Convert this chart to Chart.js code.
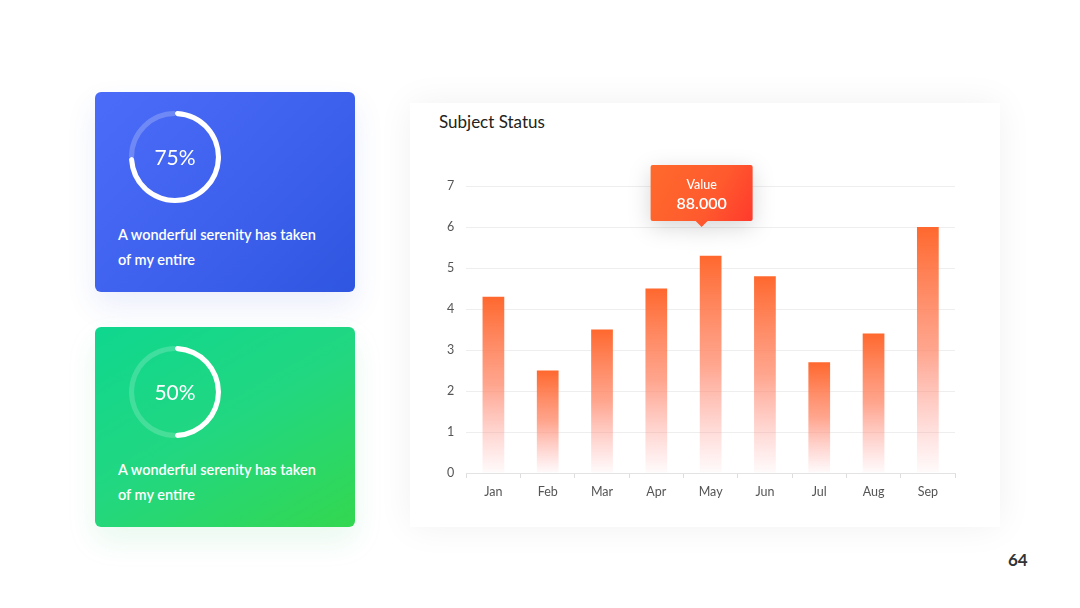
<!doctype html>
<html lang="en">
<head>
<meta charset="utf-8">
<title>Subject Status</title>
<script src="https://cdn.jsdelivr.net/npm/chart.js@4.4.0/dist/chart.umd.min.js"></script>
<style>
  html, body { margin: 0; padding: 0; background: #fff; }
  body { width: 1080px; height: 608px; position: relative; overflow: hidden; font-family: Lato, "Open Sans", sans-serif; }
  .card { position: absolute; left: 95px; width: 260px; height: 200px; border-radius: 6px; color: #fff; }
  .card.blue { top: 92px; background: linear-gradient(135deg, #4b6cf8 0%, #3f62ee 50%, #2f56e0 100%); box-shadow: 0 14px 30px rgba(60, 90, 230, 0.10); }
  .card.green { top: 327px; background: linear-gradient(150deg, #0fd78f 0%, #22d780 50%, #33d74f 100%); box-shadow: 0 14px 30px rgba(30, 200, 100, 0.10); }
  .card canvas { position: absolute; left: 30px; top: 15px; }
  .card .pct { position: absolute; left: 30px; top: 15px; width: 100px; height: 100px; line-height: 100px; text-align: center; font-size: 21px; }
  .card .txt { position: absolute; left: 23px; top: 130px; width: 210px; font-size: 14.5px; font-weight: 600; line-height: 25px; }
  .panel { position: absolute; left: 410px; top: 103px; width: 590px; height: 424px; background: #fff; box-shadow: 0 0 34px rgba(0, 0, 0, 0.06); }
  .panel h2 { position: absolute; left: 29px; top: 8px; margin: 0; font-size: 17px; font-weight: 400; color: #222; }
  .panel canvas { position: absolute; left: 0; top: 0; }
  .page { position: absolute; left: 1008px; top: 549px; font-size: 17px; font-weight: 700; color: #333; }
</style>
</head>
<body>

<div class="card blue">
  <canvas id="ring1" width="100" height="100"></canvas>
  <div class="pct">75%</div>
  <div class="txt">A wonderful serenity has taken of my entire</div>
</div>

<div class="card green">
  <canvas id="ring2" width="100" height="100"></canvas>
  <div class="pct">50%</div>
  <div class="txt">A wonderful serenity has taken of my entire</div>
</div>

<div class="panel">
  <h2>Subject Status</h2>
  <canvas id="bars" width="590" height="424"></canvas>
</div>

<div class="page">64</div>

<script>
// chart data
const months = ['Jan', 'Feb', 'Mar', 'Apr', 'May', 'Jun', 'Jul', 'Aug', 'Sep'];
const subjectValues = [4.3, 2.5, 3.5, 4.5, 5.3, 4.8, 2.7, 3.4, 6.0];
const yMax = 7;

// callout over May
const calloutIndex = 4;
const calloutAnchor = 6;
const calloutLabel = 'Value';
const calloutValue = '88.000';

// progress rings
const ringBlue = [75, 25];
const ringGreen = [50, 50];

function makeRing(id, values, trackColor) {
  new Chart(document.getElementById(id), {
    type: 'doughnut',
    data: {
      datasets: [{
        data: values,
        backgroundColor: ['#ffffff', trackColor],
        borderWidth: 0,
        borderRadius: [3, 0]
      }]
    },
    options: {
      responsive: false,
      animation: false,
      cutout: '89%',
      layout: { padding: 4 },
      events: [],
      plugins: { legend: { display: false }, tooltip: { enabled: false } }
    }
  });
}
makeRing('ring1', ringBlue, 'rgba(255,255,255,0.22)');
makeRing('ring2', ringGreen, 'rgba(255,255,255,0.18)');

// gradient for each bar, from its top to the baseline
function barGradient(ctx) {
  const chart = ctx.chart;
  const y = chart.scales.y;
  if (!chart.chartArea || !y) return '#ff6a2e';
  const top = y.getPixelForValue(ctx.raw);
  const base = y.getPixelForValue(0);
  const g = chart.ctx.createLinearGradient(0, top, 0, base);
  g.addColorStop(0, 'rgba(255,104,46,1)');
  g.addColorStop(0.5, 'rgba(255,140,110,0.78)');
  g.addColorStop(1, 'rgba(255,150,150,0.04)');
  return g;
}

// tooltip-like box, sits a little left of the bar centre like the original
const calloutPlugin = {
  id: 'callout',
  afterDatasetsDraw(chart) {
    const ctx = chart.ctx;
    const x = chart.scales.x.getPixelForValue(calloutIndex) - 9;
    const tipY = chart.scales.y.getPixelForValue(calloutAnchor);
    const w = 102, h = 56, arrow = 6;
    const left = x - w / 2, bottom = tipY - arrow, top = bottom - h;
    ctx.save();
    const g = ctx.createLinearGradient(left, top, left + w, bottom);
    g.addColorStop(0, '#ff6a2c');
    g.addColorStop(0.6, '#ff5a2e');
    g.addColorStop(1, '#ff3a2c');
    ctx.shadowColor = 'rgba(0,0,0,0.16)';
    ctx.shadowBlur = 22;
    ctx.shadowOffsetY = 6;
    ctx.fillStyle = g;
    ctx.beginPath();
    ctx.moveTo(left + 2, top);
    ctx.lineTo(left + w - 2, top);
    ctx.quadraticCurveTo(left + w, top, left + w, top + 2);
    ctx.lineTo(left + w, bottom - 2);
    ctx.quadraticCurveTo(left + w, bottom, left + w - 2, bottom);
    ctx.lineTo(x + arrow, bottom);
    ctx.lineTo(x, tipY);
    ctx.lineTo(x - arrow, bottom);
    ctx.lineTo(left + 2, bottom);
    ctx.quadraticCurveTo(left, bottom, left, bottom - 2);
    ctx.lineTo(left, top + 2);
    ctx.quadraticCurveTo(left, top, left + 2, top);
    ctx.closePath();
    ctx.fill();
    ctx.shadowColor = 'transparent';
    ctx.fillStyle = '#fff';
    ctx.textAlign = 'center';
    ctx.textBaseline = 'middle';
    ctx.font = '500 12.5px Lato, sans-serif';
    ctx.fillText(calloutLabel, x, top + 20);
    ctx.font = '600 16px Lato, sans-serif';
    ctx.fillText(calloutValue, x, top + 39);
    ctx.restore();
  }
};

new Chart(document.getElementById('bars'), {
  type: 'bar',
  data: {
    labels: months,
    datasets: [{
      data: subjectValues,
      backgroundColor: barGradient,
      borderWidth: 0,
      barPercentage: 0.8,
      categoryPercentage: 0.5
    }]
  },
  options: {
    responsive: false,
    animation: false,
    events: [],
    layout: { padding: { top: 83, left: 25, right: 45, bottom: 22 } },
    plugins: { legend: { display: false }, tooltip: { enabled: false } },
    scales: {
      x: {
        grid: { display: true, drawOnChartArea: false, drawTicks: true, tickLength: 5, color: '#dddddd' },
        border: { display: true, color: '#e3e3e3' },
        ticks: { color: '#555', font: { family: 'Lato', size: 12.5 }, padding: 6 }
      },
      y: {
        min: 0,
        max: yMax,
        grid: { color: '#eeeeee', drawTicks: false },
        border: { display: false },
        ticks: { stepSize: 1, color: '#555', font: { family: 'Lato', size: 12.5 }, padding: 12 }
      }
    }
  },
  plugins: [calloutPlugin]
});
</script>
</body>
</html>
